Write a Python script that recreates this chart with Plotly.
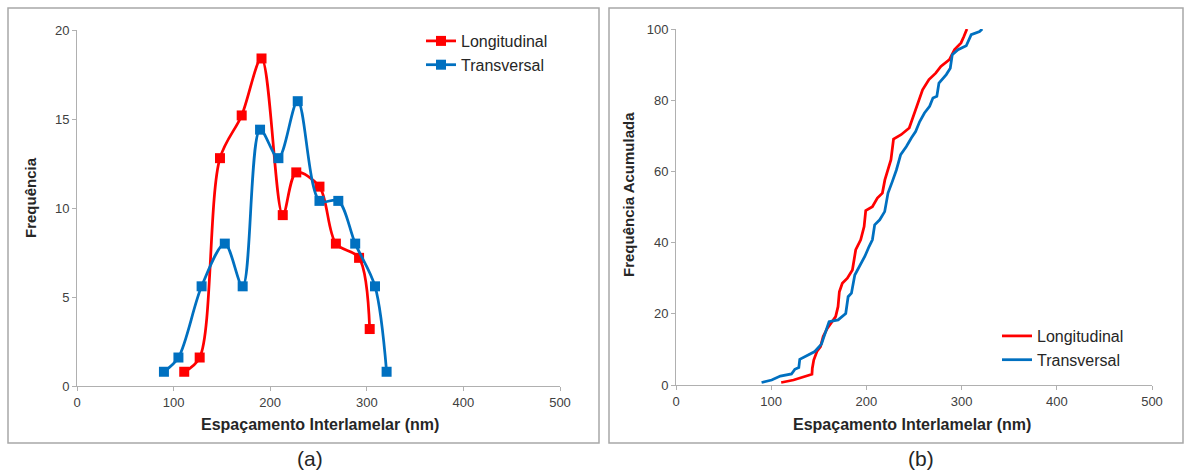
import plotly.graph_objects as go

W, H = 1190, 472

# Panel (a): frequency distribution
long_x = [111, 127, 148, 170.5, 191, 213, 227, 251, 268, 292, 303]
long_y = [0.8, 1.6, 12.8, 15.2, 18.4, 9.6, 12.0, 11.2, 8.0, 7.2, 3.2]
trans_x = [90, 105, 129, 153, 171.5, 189.5, 208.5, 228.5, 251, 270.5, 288, 308.5, 320.5]
trans_y = [0.8, 1.6, 5.6, 8.0, 5.6, 14.4, 12.8, 16.0, 10.4, 10.4, 8.0, 5.6, 0.8]

# Panel (b): cumulative frequency
cum_long_x = [110.5, 123.5, 142.8, 143.2, 144.7, 148, 151.8, 154.6, 158.9, 164.2, 167.7, 170.2,
              171.6, 174.7, 180, 185.3, 188.8, 194, 197.6, 199.3, 206.3, 211.5, 216.8, 219.4,
              222.2, 225.8, 228.5, 236.4, 245, 248.6, 253.9, 259, 265.7, 272.8, 278.2, 287.2,
              292.6, 299.4, 302.4, 305.6]
cum_long_y = [0.7, 1.4, 3.0, 4.7, 7.0, 9.4, 10.8, 13.6, 15.9, 17.8, 19.2, 22.0,
              26.2, 28.6, 30.0, 32.3, 38.0, 40.8, 44.5, 49.0, 50.1, 52.5, 53.9, 57.6,
              60.4, 63.3, 69.1, 70.3, 72.2, 75.0, 78.7, 82.9, 85.8, 87.6, 89.5, 91.4,
              94.2, 96.1, 97.9, 100.0]
cum_trans_x = [89.9, 100.5, 109.6, 121.3, 124.8, 129, 130, 137, 145.8, 152.8, 156.3, 160.8,
               170.3, 178.3, 180.8, 184.3, 187.8, 193, 198.3, 202.8, 206.3, 208.7, 214, 219.2,
               222.7, 227.3, 231.5, 236, 242, 247.2, 251.7, 256, 261, 266.4, 269.9, 274,
               276.2, 283.9, 288.1, 290.2, 296.2, 304.9, 310.1, 318.9, 321.7]
cum_trans_y = [0.7, 1.4, 2.5, 3.1, 4.4, 4.9, 7.2, 8.2, 9.4, 11.5, 14.5, 17.8,
               18.3, 20.1, 24.8, 25.8, 30.9, 33.3, 36.1, 38.9, 40.8, 45.0, 46.4, 48.7,
               53.9, 57.2, 60.4, 64.7, 67.0, 69.4, 71.2, 74.0, 76.4, 78.3, 80.6, 81.1,
               84.8, 87.2, 89.0, 92.8, 94.2, 95.3, 98.4, 99.3, 100.0]

x_ticks = [0, 100, 200, 300, 400, 500]
y_ticks_a = [0, 5, 10, 15, 20]
y_ticks_b = [0, 20, 40, 60, 80, 100]

RED = "#FF0000"
BLUE = "#0070C0"
FONT = "Liberation Sans, Arial, sans-serif"
TXT = "#262626"

fig = go.Figure()
fig.add_trace(go.Scatter(x=long_x, y=long_y, name="Longitudinal", mode="lines+markers",
                         line=dict(color=RED, width=2.75, shape="spline", smoothing=0.9),
                         marker=dict(symbol="square", size=10, color=RED),
                         xaxis="x", yaxis="y", legend="legend"))
fig.add_trace(go.Scatter(x=trans_x, y=trans_y, name="Transversal", mode="lines+markers",
                         line=dict(color=BLUE, width=2.75, shape="spline", smoothing=0.9),
                         marker=dict(symbol="square", size=10, color=BLUE),
                         xaxis="x", yaxis="y", legend="legend"))
fig.add_trace(go.Scatter(x=cum_long_x, y=cum_long_y, name="Longitudinal", mode="lines",
                         line=dict(color=RED, width=2.75),
                         xaxis="x2", yaxis="y2", legend="legend2"))
fig.add_trace(go.Scatter(x=cum_trans_x, y=cum_trans_y, name="Transversal", mode="lines",
                         line=dict(color=BLUE, width=2.75),
                         xaxis="x2", yaxis="y2", legend="legend2"))

axis_common = dict(showgrid=False, zeroline=False, showline=True, linecolor="#b0b0b0",
                   linewidth=1, ticks="outside", ticklen=4, tickcolor="#b0b0b0",
                   automargin=False,
                   tickfont=dict(family=FONT, size=13, color="#404040"))

def ann(text, x, y, size, bold=False, angle=0):
    return dict(text=f"<b>{text}</b>" if bold else text, xref="paper", yref="paper",
                x=x / W, y=1 - y / H, xanchor="center", yanchor="middle",
                showarrow=False, textangle=angle, borderpad=0,
                font=dict(family=FONT, size=size, color=TXT))

fig.update_layout(
    width=W, height=H,
    margin=dict(l=0, r=0, t=0, b=0, pad=0, autoexpand=False),
    paper_bgcolor="white", plot_bgcolor="white",
    font=dict(family=FONT, color=TXT),
    xaxis=dict(domain=[77 / W, 560 / W], range=[0, 500], tickvals=x_ticks,
               anchor="y", **axis_common),
    yaxis=dict(domain=[86 / H, 442 / H], range=[0, 20], tickvals=y_ticks_a,
               anchor="x", **axis_common),
    xaxis2=dict(domain=[676 / W, 1152 / W], range=[0, 500], tickvals=x_ticks,
                anchor="y2", **axis_common),
    yaxis2=dict(domain=[87 / H, 443 / H], range=[0, 100], tickvals=y_ticks_b,
                anchor="x2", **axis_common),
    legend=dict(x=421 / W, y=1 - 24 / H, xanchor="left", yanchor="top",
                font=dict(family=FONT, size=16, color=TXT),
                bgcolor="rgba(0,0,0,0)", tracegroupgap=0, itemwidth=30),
    legend2=dict(x=997 / W, y=1 - 319 / H, xanchor="left", yanchor="top",
                 font=dict(family=FONT, size=16, color=TXT),
                 bgcolor="rgba(0,0,0,0)", tracegroupgap=0, itemwidth=30),
    shapes=[
        dict(type="rect", xref="paper", yref="paper", x0=8 / W, x1=599 / W,
             y0=1 - 443 / H, y1=1 - 8 / H, line=dict(color="#a8a8a8", width=1.5)),
        dict(type="rect", xref="paper", yref="paper", x0=609 / W, x1=1183 / W,
             y0=1 - 443 / H, y1=1 - 8 / H, line=dict(color="#a8a8a8", width=1.5)),
    ],
    annotations=[
        ann("Espaçamento Interlamelar (nm)", 320, 424, 16, bold=True),
        ann("Frequência", 30, 198, 15, bold=True, angle=-90),
        ann("Espaçamento Interlamelar (nm)", 912, 424, 16, bold=True),
        ann("Frequência Acumulada", 628, 195, 15, bold=True, angle=-90),
        ann("(a)", 310, 458, 21),
        ann("(b)", 921, 458, 21),
    ],
)

fig.write_html("out.html", config={"displayModeBar": False},
               post_script="document.body.style.margin='0px';"
                           "document.body.style.overflow='hidden';")
